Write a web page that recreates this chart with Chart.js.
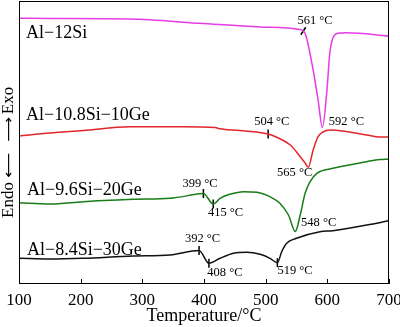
<!DOCTYPE html>
<html>
<head>
<meta charset="utf-8">
<script src="https://cdn.jsdelivr.net/npm/chart.js@4/dist/chart.umd.min.js"></script>
<style>
html,body{margin:0;padding:0;background:#fff;}
#wrap{width:400px;height:327px;}
</style>
</head>
<body>
<div id="wrap"><canvas id="c" width="400" height="327"></canvas></div>
<script>
// ---- data (temperature °C, relative heat-flow units) ----
const seriesNames = ['Al\u221212Si', 'Al\u221210.8Si\u221210Ge', 'Al\u22129.6Si\u221220Ge', 'Al\u22128.4Si\u221230Ge'];
const seriesColors = ['#e43de4', '#e3262a', '#187c18', '#111111'];

const tempA = [100, 150, 280, 393, 491, 556, 561, 565, 577, 585, 592, 599, 604, 609, 617, 631, 700];
const flowA = [265.7, 265.5, 265, 260.7, 257, 254.5, 253, 249, 214, 184, 156.5, 191, 231, 246, 250.7, 251.3, 248];

const tempB = [100, 150, 204, 280, 366, 418, 426, 458, 504, 518, 540, 556, 564, 569, 577, 585, 593, 604, 632, 664, 685, 700];
const flowB = [148, 151, 153.5, 157.3, 157.3, 156.5, 155.2, 153.5, 150, 146.7, 139, 127.3, 121, 116.7, 134, 147.3, 152, 154, 152.3, 149, 147, 147];

const tempC = [100, 150, 204, 285, 345, 393, 399, 415, 426, 442, 464, 486, 507, 523, 537, 548, 556, 564, 572, 583, 609, 664, 685, 700];
const flowC = [81.3, 80, 82.3, 84.7, 85.7, 90.2, 90.5, 80, 85.7, 89.7, 92.3, 91.7, 87.3, 80.7, 69, 52.5, 69, 90.7, 102.3, 110.7, 115.7, 122.3, 124.5, 125];

const tempD = [100, 150, 204, 285, 345, 392, 408, 426, 448, 469, 491, 507, 519, 526, 534, 550, 588, 609, 664, 700];
const flowD = [25.7, 25, 25.7, 28, 29, 33.5, 20.7, 25.7, 30.7, 31.7, 29.7, 25.7, 21.3, 32.3, 40.7, 45.7, 52.3, 53.3, 59, 63.3];

// onset / peak tick marks on the curves
const markT = [561, 504, 399, 415, 392, 408, 519];
const markV = [253, 150, 90.5, 80, 33.5, 20.7, 21.3];
const markRot = [-57, 90, 90, 90, 90, 90, 90];

// temperature annotations
const noteText = ['561 \u00B0C', '592 \u00B0C', '504 \u00B0C', '565 \u00B0C', '399 \u00B0C', '415 \u00B0C', '548 \u00B0C', '392 \u00B0C', '408 \u00B0C', '519 \u00B0C'];
const noteT = [580, 631, 510, 547, 393.5, 435, 586, 397.6, 434, 547.6];
const noteV = [263, 162, 162, 111.5, 100, 71, 61.5, 45, 11, 13];

// series name labels (left aligned)
const nameT = [111.4, 111.4, 113, 113];
const nameV = [251, 169, 94, 34];

const xTicks = [100, 200, 300, 400, 500, 600, 700];
const xTitle = 'Temperature/\u00B0C';
const yTitleParts = ['Endo', '\u27F5', '\u27F6', 'Exo'];

const SERIF = '"Liberation Serif", "Times New Roman", serif';

const curves = [[tempA, flowA], [tempB, flowB], [tempC, flowC], [tempD, flowD]];
const datasets = curves.map((c, i) => ({
  label: seriesNames[i],
  data: c[0].map((t, k) => ({x: t, y: c[1][k]})),
  borderColor: seriesColors[i],
  borderWidth: 1.5,
  pointRadius: 0,
  fill: false,
  cubicInterpolationMode: 'monotone'
}));
datasets.push({
  label: 'marks',
  data: markT.map((t, k) => ({x: t, y: markV[k]})),
  showLine: false,
  pointStyle: 'line',
  pointRadius: 4.5,
  pointRotation: markRot,
  borderColor: '#000',
  pointBorderWidth: 1.5,
  pointBorderColor: '#000'
});

const decor = {
  id: 'decor',
  afterDatasetsDraw(chart) {
    const ctx = chart.ctx, a = chart.chartArea;
    const xs = chart.scales.x, ys = chart.scales.y;
    ctx.save();
    ctx.strokeStyle = '#000';
    ctx.lineWidth = 1;
    ctx.strokeRect(Math.round(a.left) + 0.5, Math.round(a.top) + 0.5, Math.round(a.right - a.left) - 1, Math.round(a.bottom - a.top) - 1);
    // inward ticks
    xTicks.forEach(t => {
      const px = Math.round(xs.getPixelForValue(t)) + 0.5;
      ctx.beginPath();
      ctx.moveTo(px, a.bottom);
      ctx.lineTo(px, a.bottom - 5);
      ctx.stroke();
    });
    ctx.fillStyle = '#000';
    // annotations
    ctx.font = '12.5px ' + SERIF;
    ctx.textAlign = 'center';
    ctx.textBaseline = 'middle';
    noteText.forEach((s, i) => ctx.fillText(s, xs.getPixelForValue(noteT[i]), ys.getPixelForValue(noteV[i])));
    // series names
    ctx.font = '18px ' + SERIF;
    ctx.textAlign = 'left';
    seriesNames.forEach((s, i) => ctx.fillText(s, xs.getPixelForValue(nameT[i]), ys.getPixelForValue(nameV[i])));
    // y title (rotated), drawn in parts: Endo, arrow, arrow, Exo
    ctx.translate(9, 0);
    ctx.rotate(-Math.PI / 2);
    ctx.textAlign = 'center';
    ctx.font = '17px ' + SERIF;
    ctx.fillText(yTitleParts[0], -200, 0);
    ctx.fillText(yTitleParts[3], -100.5, 0);
    ctx.font = '14px "DejaVu Sans"';
    [[yTitleParts[1], -165], [yTitleParts[2], -129.5]].forEach(([s, pos]) => {
      const w = ctx.measureText(s).width;
      ctx.save();
      ctx.translate(pos, 0);
      ctx.scale(25 / w, 1);
      ctx.fillText(s, 0, 0);
      ctx.restore();
    });
    ctx.restore();
  }
};

new Chart(document.getElementById('c'), {
  type: 'line',
  data: {datasets},
  options: {
    responsive: false,
    animation: false,
    layout: {autoPadding: false, padding: {top: 1, right: 11, left: 0, bottom: 0}},
    plugins: {legend: {display: false}, tooltip: {enabled: false}},
    scales: {
      x: {
        type: 'linear', min: 100, max: 700,
        afterBuildTicks: s => { s.ticks = xTicks.map(v => ({value: v})); },
        afterFit: s => { s.height = 43; s.paddingLeft = 0; s.paddingRight = 0; s.paddingTop = 0; s.paddingBottom = 0; },
        grid: {display: false},
        border: {display: false},
        ticks: {color: '#000', padding: -2, maxRotation: 0, font: {family: SERIF, size: 17}},
        title: {display: true, text: xTitle, color: '#000', padding: {top: 0, bottom: 0}, font: {family: SERIF, size: 18}}
      },
      y: {
        type: 'linear', min: 0, max: 283,
        afterFit: s => { s.width = 19; s.paddingTop = 0; s.paddingBottom = 0; s.paddingLeft = 0; s.paddingRight = 0; },
        grid: {display: false},
        border: {display: false},
        ticks: {display: false}
      }
    }
  },
  plugins: [decor]
});
</script>
</body>
</html>
